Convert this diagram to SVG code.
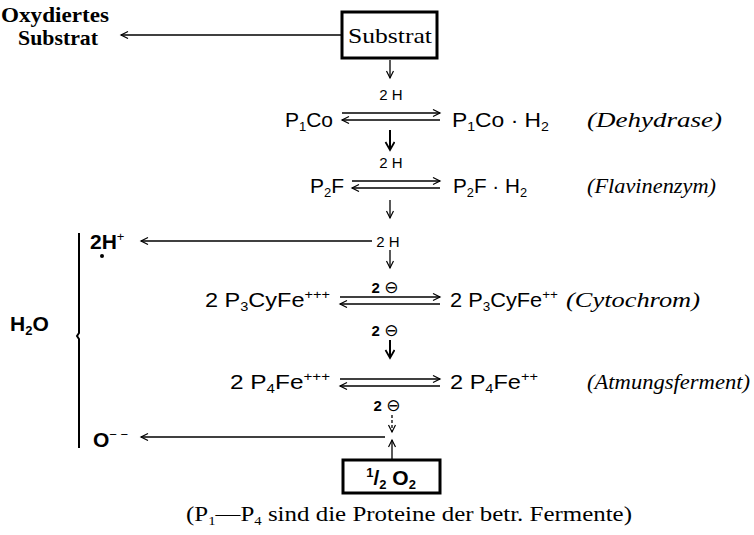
<svg xmlns="http://www.w3.org/2000/svg" width="754" height="535" viewBox="0 0 754 535">
<style>
text{fill:#000}
.s{font-family:"Liberation Sans","DejaVu Sans",sans-serif;font-size:21px}
.sl{font-family:"Liberation Sans","DejaVu Sans",sans-serif;font-size:15px}
.cm{font-family:"DejaVu Sans",sans-serif;font-size:17px}
.it{font-family:"Liberation Serif",serif;font-style:italic;font-size:22px}
.sr{font-family:"Liberation Serif",serif;font-size:22px}
.b{font-weight:bold}
.ln{stroke:#000;stroke-width:1.3;fill:none}
.bl{stroke:#000;stroke-width:2;fill:none}
.box{stroke:#000;stroke-width:3;fill:#fff}
.sub{font-size:13px}
.sup{font-size:13px}
</style>
<defs>
<marker id="ah" markerWidth="10" markerHeight="10" refX="8" refY="4" orient="auto" markerUnits="userSpaceOnUse"><path d="M1,0.5 L8,4 L1,7.5" fill="none" stroke="#000" stroke-width="1.2"/></marker>
<marker id="ahb" markerWidth="12" markerHeight="12" refX="9" refY="5" orient="auto" markerUnits="userSpaceOnUse"><path d="M1,0.5 L9,5 L1,9.5" fill="none" stroke="#000" stroke-width="1.8"/></marker>
</defs>

<g id="connectors">
  <line class="ln" x1="342" y1="35" x2="121" y2="35" marker-end="url(#ah)"/>
  <line class="ln" x1="390" y1="60" x2="390" y2="78" marker-end="url(#ah)"/>
  <line class="ln" x1="342" y1="113" x2="440" y2="113" marker-end="url(#ah)"/>
  <line class="ln" x1="440" y1="120" x2="342" y2="120" marker-end="url(#ah)"/>
  <line class="bl" x1="390" y1="130" x2="390" y2="150" marker-end="url(#ahb)"/>
  <line class="ln" x1="352" y1="181" x2="440" y2="181" marker-end="url(#ah)"/>
  <line class="ln" x1="440" y1="188" x2="352" y2="188" marker-end="url(#ah)"/>
  <line class="ln" x1="390" y1="200" x2="390" y2="218" marker-end="url(#ah)"/>
  <line class="ln" x1="372" y1="241" x2="141" y2="241" marker-end="url(#ah)"/>
  <line class="ln" x1="390" y1="250" x2="390" y2="268" marker-end="url(#ah)"/>
  <line class="ln" x1="340" y1="297" x2="440" y2="297" marker-end="url(#ah)"/>
  <line class="ln" x1="440" y1="304" x2="340" y2="304" marker-end="url(#ah)"/>
  <line class="bl" x1="390" y1="340" x2="390" y2="358" marker-end="url(#ahb)"/>
  <line class="ln" x1="340" y1="379" x2="440" y2="379" marker-end="url(#ah)"/>
  <line class="ln" x1="440" y1="386" x2="340" y2="386" marker-end="url(#ah)"/>
  <line class="ln" x1="392" y1="415" x2="392" y2="432" stroke-dasharray="3,2" marker-end="url(#ah)"/>
  <line class="ln" x1="385" y1="437" x2="141" y2="437" marker-end="url(#ah)"/>
  <line class="ln" x1="392" y1="459" x2="392" y2="440" marker-end="url(#ah)"/>
  <path class="bl" d="M79,233 L79,333 L77,336 L79,339 L79,448"/>
</g>

<g id="oxydiertes">
  <text class="sr b" x="1" y="22" font-size="20" textLength="108" lengthAdjust="spacingAndGlyphs">Oxydiertes</text>
  <text class="sr b" x="18" y="45" font-size="20" textLength="80" lengthAdjust="spacingAndGlyphs">Substrat</text>
</g>

<g id="substrat">
  <rect class="box" x="342" y="12" width="95" height="46"/>
  <text class="sr" x="348" y="43" font-size="23" textLength="84" lengthAdjust="spacingAndGlyphs">Substrat</text>
</g>

<g id="label-2h-1"><text class="sl" x="391" y="100" text-anchor="middle">2 H</text></g>
<g id="p1co"><text class="s" x="333" y="127" text-anchor="end">P<tspan class="sub" dy="4">1</tspan><tspan dy="-4">Co</tspan></text></g>
<g id="p1coh2"><text class="s" x="452" y="127" textLength="97" lengthAdjust="spacingAndGlyphs">P<tspan class="sub" dy="4">1</tspan><tspan dy="-4">Co · H</tspan><tspan class="sub" dy="4">2</tspan></text></g>
<g id="dehydrase"><text class="it" x="587" y="127" textLength="135" lengthAdjust="spacingAndGlyphs">(Dehydrase)</text></g>

<g id="label-2h-2"><text class="sl" x="391" y="168" text-anchor="middle">2 H</text></g>
<g id="p2f"><text class="s" x="344" y="193" text-anchor="end">P<tspan class="sub" dy="4">2</tspan><tspan dy="-4">F</tspan></text></g>
<g id="p2fh2"><text class="s" x="453" y="193" textLength="74" lengthAdjust="spacingAndGlyphs">P<tspan class="sub" dy="4">2</tspan><tspan dy="-4">F · H</tspan><tspan class="sub" dy="4">2</tspan></text></g>
<g id="flavinenzym"><text class="it" x="587" y="193" textLength="129" lengthAdjust="spacingAndGlyphs">(Flavinenzym)</text></g>

<g id="label-2h-3"><text class="sl" x="388" y="247" text-anchor="middle">2 H</text></g>
<g id="h-plus"><text class="s b" x="90" y="249" font-size="22">2H<tspan class="sup" font-weight="normal" dy="-8">+</tspan></text><circle cx="102" cy="256" r="2"/></g>

<g id="label-e1"><text class="sl b" x="385" y="293" text-anchor="middle">2 <tspan class="cm" font-weight="normal">⊖</tspan></text></g>
<g id="cy3"><text class="s" x="205" y="307" textLength="125" lengthAdjust="spacingAndGlyphs">2 P<tspan class="sub" dy="4">3</tspan><tspan dy="-4">CyFe</tspan><tspan class="sup" dy="-8">+++</tspan></text></g>
<g id="cy2"><text class="s" x="450" y="307" textLength="108" lengthAdjust="spacingAndGlyphs">2 P<tspan class="sub" dy="4">3</tspan><tspan dy="-4">CyFe</tspan><tspan class="sup" dy="-8">++</tspan></text></g>
<g id="cytochrom"><text class="it" x="566" y="307" textLength="134" lengthAdjust="spacingAndGlyphs">(Cytochrom)</text></g>

<g id="label-e2"><text class="sl b" x="385" y="336" text-anchor="middle">2 <tspan class="cm" font-weight="normal">⊖</tspan></text></g>
<g id="p4fe3"><text class="s" x="230" y="389" textLength="100" lengthAdjust="spacingAndGlyphs">2 P<tspan class="sub" dy="4">4</tspan><tspan dy="-4">Fe</tspan><tspan class="sup" dy="-8">+++</tspan></text></g>
<g id="p4fe2"><text class="s" x="450" y="389" textLength="88" lengthAdjust="spacingAndGlyphs">2 P<tspan class="sub" dy="4">4</tspan><tspan dy="-4">Fe</tspan><tspan class="sup" dy="-8">++</tspan></text></g>
<g id="atmungsferment"><text class="it" x="587" y="389" textLength="163" lengthAdjust="spacingAndGlyphs">(Atmungsferment)</text></g>

<g id="label-e3"><text class="sl b" x="387" y="411" text-anchor="middle">2 <tspan class="cm" font-weight="normal">⊖</tspan></text></g>
<g id="o-minus"><text class="s b" x="93" y="447" font-size="22">O<tspan class="sup" font-weight="normal" dy="-8">− −</tspan></text></g>

<g id="h2o"><text class="s b" x="10" y="331" font-size="22">H<tspan class="sub" dy="4">2</tspan><tspan dy="-4">O</tspan></text></g>

<g id="o2">
  <rect class="box" x="343" y="460" width="97" height="33"/>
  <text class="s b" x="391" y="485" font-size="22" text-anchor="middle"><tspan class="sup" dy="-8">1</tspan><tspan dy="8">/</tspan><tspan class="sub" dy="4">2</tspan><tspan dy="-4"> O</tspan><tspan class="sub" dy="4">2</tspan></text>
</g>

<g id="footnote"><text class="sr" x="186" y="521" font-size="21" textLength="446" lengthAdjust="spacingAndGlyphs">(P<tspan class="sub" dy="4">1</tspan><tspan dy="-4">—P</tspan><tspan class="sub" dy="4">4</tspan><tspan dy="-4"> sind die Proteine der betr. Fermente)</tspan></text></g>
</svg>
